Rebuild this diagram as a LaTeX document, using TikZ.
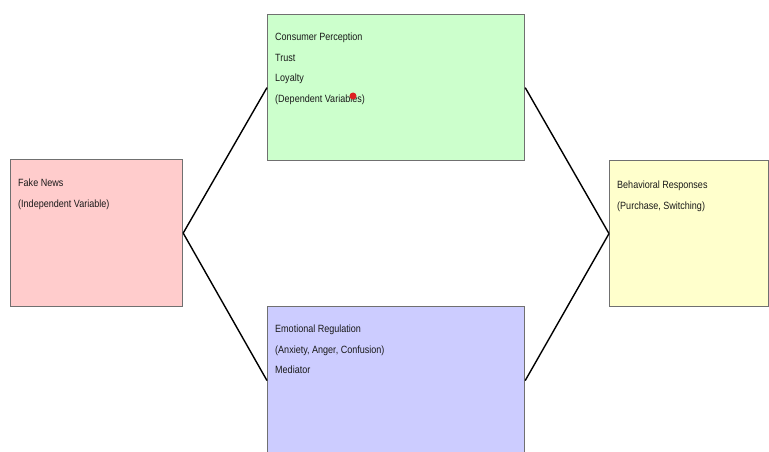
\documentclass[tikz,border=0pt]{standalone}
\usepackage{fontspec}
\setmainfont[FakeStretch=0.86]{Liberation Sans}
\definecolor{redfill}{HTML}{FFCCCC}
\definecolor{greenfill}{HTML}{CCFFCC}
\definecolor{bluefill}{HTML}{CCCCFF}
\definecolor{yellowfill}{HTML}{FFFFCC}
\definecolor{boxline}{HTML}{707070}
\definecolor{dotred}{HTML}{DD2222}
\begin{document}
\begin{tikzpicture}[x=1pt,y=-1pt,
  box/.style={draw=boxline, line width=1.2pt, inner sep=0pt, anchor=north west},
  txt/.style={anchor=north west, align=left, inner sep=0pt, text=black!90,
    font=\fontsize{10.5}{20.5}\selectfont},
  link/.style={draw=black, line width=1.4pt}]
\useasboundingbox (0,0) rectangle (769,452);
\fill[white] (0,0) rectangle (769,452);
\node[box, fill=redfill, minimum width=172pt, minimum height=147pt] (fake) at (10,159) {};
\node[box, fill=greenfill, minimum width=257pt, minimum height=146pt] (cons) at (267,14) {};
\node[box, fill=bluefill, minimum width=257pt, minimum height=148pt] (emo) at (267,306) {};
\node[box, fill=yellowfill, minimum width=159pt, minimum height=146pt] (beh) at (609,160) {};
\draw[link] (fake.east) -- (cons.west);
\draw[link] (fake.east) -- (emo.west);
\draw[link] (cons.east) -- (beh.west);
\draw[link] (emo.east) -- (beh.west);
\node[txt] (faket) at ([shift={(8,20)}]fake.north west) {Fake News\\(Independent Variable)};
\node[txt] (const) at ([shift={(8,19)}]cons.north west) {Consumer Perception\\Trust\\Loyalty\\(Dependent Variables)};
\node[txt] (emot) at ([shift={(8,19)}]emo.north west) {Emotional Regulation\\(Anxiety, Anger, Confusion)\\Mediator};
\node[txt] (beht) at ([shift={(8,21)}]beh.north west) {Behavioral Responses\\(Purchase, Switching)};
\node[circle, fill=dotred, inner sep=0pt, minimum size=7pt] (dot) at (353,96) {};
\end{tikzpicture}
\end{document}
